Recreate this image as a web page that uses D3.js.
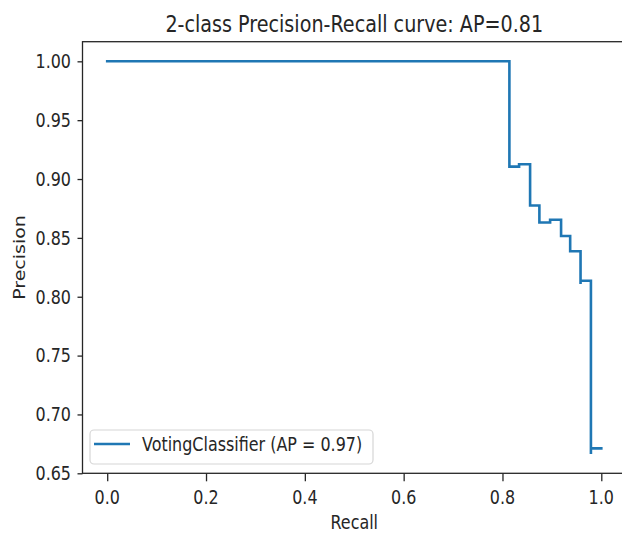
<!DOCTYPE html>
<html>
<head>
<meta charset="utf-8">
<script src="https://cdn.jsdelivr.net/npm/d3@7"></script>
<style>
  html, body { margin: 0; padding: 0; background: #fff; }
  svg { display: block; }
  text { font-family: "DejaVu Sans", sans-serif; fill: #262626; }
</style>
</head>
<body>
<svg id="chart" width="622" height="538"></svg>
<script>
// Precision-recall points in scikit-learn order (recall decreasing)
const recall    = [1.000, 0.979, 0.979, 0.958, 0.958, 0.937, 0.9186, 0.8964, 0.8747, 0.8559, 0.8336, 0.814, 0.000];
const precision = [0.6712, 0.6664, 0.8136, 0.8108, 0.8387, 0.8516, 0.8654, 0.8631, 0.8775, 0.9125, 0.9105, 1.000, 1.000];

const xTicks = [0.0, 0.2, 0.4, 0.6, 0.8, 1.0];
const yTicks = [0.65, 0.70, 0.75, 0.80, 0.85, 0.90, 0.95, 1.00];

const titleText  = "2-class Precision-Recall curve: AP=0.81";
const xLabelText = "Recall";
const yLabelText = "Precision";
const legendText = "VotingClassifier (AP = 0.97)";

const SX = 0.84;           // horizontal squeeze of the glyphs
const lineColor = "#1f77b4";

const svg = d3.select("#chart");

const x = d3.scaleLinear().domain([-0.05, 1.05]).range([82.5, 626]);
const y = d3.scaleLinear().domain([0.65, 1.01667]).range([473.3, 41.7]);

// squeezed text helper
function label(g, px, py, str, size, anchor, rot) {
  return g.append("text")
    .attr("transform", `translate(${px},${py}) scale(${SX},1)` + (rot ? ` rotate(${rot})` : ""))
    .attr("text-anchor", anchor)
    .style("font-size", size + "px")
    .text(str);
}

// step curve (steps-post)
const line = d3.line()
  .x((d, i) => x(recall[i]))
  .y((d, i) => y(precision[i]))
  .curve(d3.curveStepAfter);

svg.append("path")
  .datum(recall)
  .attr("d", line)
  .attr("fill", "none")
  .attr("stroke", lineColor)
  .attr("stroke-width", 2.6)
  .attr("stroke-linejoin", "miter")
  .attr("stroke-linecap", "square");

// axes
const xAxis = svg.append("g")
  .attr("transform", `translate(0,${y(0.65)})`)
  .call(d3.axisBottom(x).tickValues(xTicks).tickSize(8).tickFormat(""));
const yAxis = svg.append("g")
  .attr("transform", `translate(${x(-0.05)},0)`)
  .call(d3.axisLeft(y).tickValues(yTicks).tickSize(5).tickFormat(""));
[xAxis, yAxis].forEach(a => {
  a.select(".domain").remove();
  a.selectAll(".tick line").attr("stroke", "#262626").attr("stroke-width", 1.3);
});

const labels = svg.append("g");
xTicks.forEach(v => label(labels, x(v), 504, d3.format(".1f")(v), 19, "middle"));
yTicks.forEach(v => label(labels, 71, y(v) + 6.8, d3.format(".2f")(v), 19, "end"));

// spines
svg.append("rect")
  .attr("x", x(-0.05)).attr("y", y(1.01667))
  .attr("width", x(1.05) - x(-0.05)).attr("height", y(0.65) - y(1.01667))
  .attr("fill", "none").attr("stroke", "#262626").attr("stroke-width", 1.3);

// titles
label(labels, (x(-0.05) + x(1.05)) / 2, 32, titleText, 22.8, "middle");
label(labels, (x(-0.05) + x(1.05)) / 2, 529, xLabelText, 19, "middle");
label(labels, 25, (y(0.65) + y(1.01667)) / 2, yLabelText, 19, "middle", -90);

// legend
const lg = svg.append("g");
lg.append("rect")
  .attr("x", 90).attr("y", 430).attr("width", 283).attr("height", 34)
  .attr("rx", 4).attr("fill", "#fff").attr("fill-opacity", 0.8)
  .attr("stroke", "#d6d6d6").attr("stroke-width", 1.2);
lg.append("line")
  .attr("x1", 94).attr("x2", 130).attr("y1", 444).attr("y2", 444)
  .attr("stroke", lineColor).attr("stroke-width", 2.6);
label(lg, 142, 451, legendText, 19, "start");
</script>
</body>
</html>
